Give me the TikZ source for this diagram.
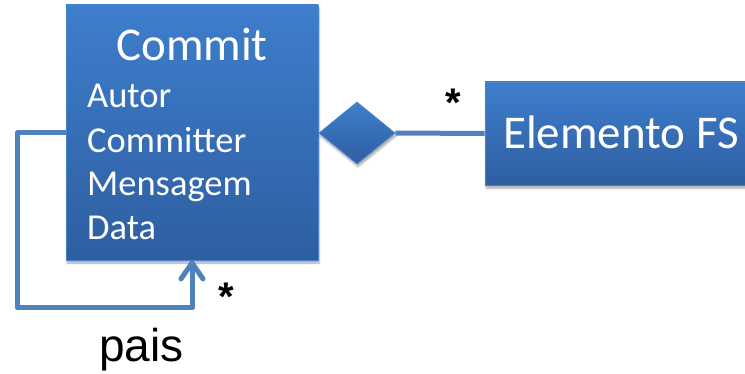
\documentclass[tikz,border=0pt]{standalone}
\usepackage{fontspec}
\setmainfont{Carlito}
\newfontfamily\arialfont{Liberation Sans}
\usetikzlibrary{shapes.geometric,arrows.meta,shadows.blur}

\definecolor{boxtop}{RGB}{62,126,205}
\definecolor{boxbot}{RGB}{46,94,160}
\definecolor{boxedge}{RGB}{72,132,206}
\definecolor{linkcol}{RGB}{79,129,189}

\tikzset{
  classbox/.style={rectangle, inner sep=0pt, draw=boxedge, line width=0.8pt,
    top color=boxtop, bottom color=boxbot,
    blur shadow={shadow xshift=1pt, shadow yshift=-3pt, shadow blur steps=6, shadow opacity=35}},
  diabox/.style={diamond, inner sep=0pt, draw=boxedge, line width=0.8pt,
    top color=boxtop, bottom color=boxbot, minimum width=76pt, minimum height=62pt,
    blur shadow={shadow xshift=1pt, shadow yshift=-3pt, shadow blur steps=6, shadow opacity=35}},
  link/.style={draw=linkcol, line width=5pt, line join=round},
  title/.style={text=white, inner sep=0pt, anchor=base west, font=\fontsize{47}{50}\selectfont},
  attr/.style={text=white, inner sep=0pt, anchor=base west, font=\fontsize{36.5}{40}\selectfont},
  mult/.style={inner sep=0pt, font=\arialfont\bfseries\fontsize{40}{42}\selectfont},
  rolelabel/.style={inner sep=0pt, anchor=base west, font=\arialfont\fontsize{46}{50}\selectfont}
}

\begin{document}
\begin{tikzpicture}[x=1pt,y=-1pt]
\useasboundingbox (0,0) rectangle (745,374);

% classes
\node[classbox, minimum width=252pt, minimum height=255pt] (commit) at (192,132.5) {};
\node[classbox, minimum width=265pt, minimum height=103pt] (elem) at (617.5,133.5) {};

% class texts
\node[title] (ctitle) at (116,61) {Commit};
\node[attr] (a1) at (87,108) {Autor};
\node[attr] (a2) at (87,153) {Committer};
\node[attr] (a3) at (87,196) {Mensagem};
\node[attr] (a4) at (87,240) {Data};
\node[title] (etitle) at (503,149) {Elemento FS};

% composition
\node[diabox] (dia) at (357,133) {};
\draw[link] (dia.east) -- (elem.west);
\node[mult] (m1) at (453,103) {*};

% parent self-association
\draw[link, -{Straight Barb[length=16pt,width=22pt,round]}]
  (commit.west) -- ++(-48,0) -- ++(0,175.5) -| (commit.south);
\node[mult] (m2) at (226,297) {*};
\node[rolelabel] (pais) at (99,362) {pais};
\end{tikzpicture}
\end{document}
